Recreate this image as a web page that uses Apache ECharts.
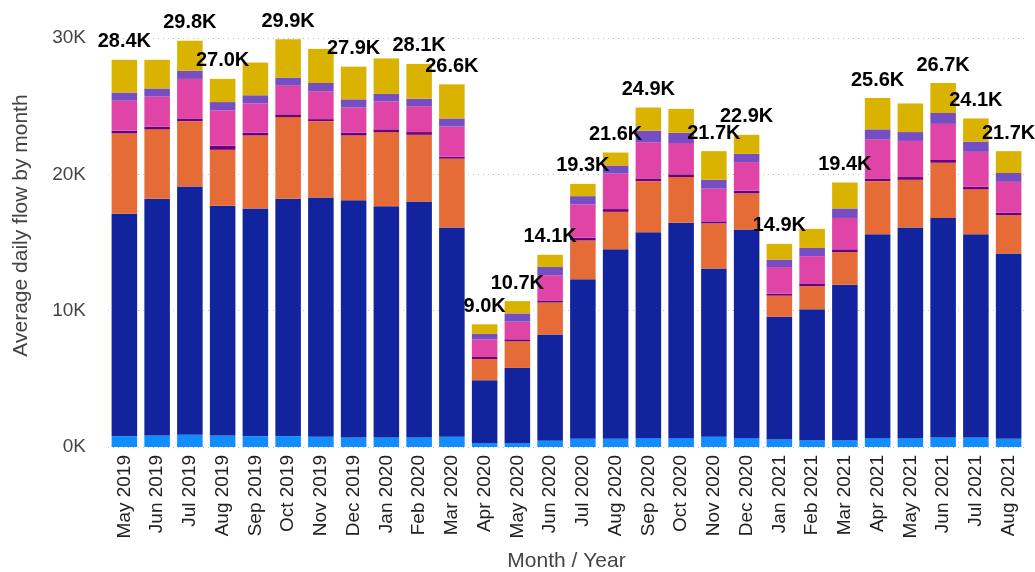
<!DOCTYPE html>
<html>
<head>
<meta charset="utf-8">
<title>Average daily flow by month</title>
<script src="https://cdn.jsdelivr.net/npm/echarts@6/dist/echarts.min.js"></script>
<style>
  html, body { margin: 0; padding: 0; background: #fff; }
  #chart { width: 1035px; height: 572px; }
</style>
</head>
<body>
<div id="chart"></div>
<script>
// values in thousands
const months = ['May 2019', 'Jun 2019', 'Jul 2019', 'Aug 2019', 'Sep 2019', 'Oct 2019', 'Nov 2019', 'Dec 2019',
  'Jan 2020', 'Feb 2020', 'Mar 2020', 'Apr 2020', 'May 2020', 'Jun 2020', 'Jul 2020', 'Aug 2020',
  'Sep 2020', 'Oct 2020', 'Nov 2020', 'Dec 2020', 'Jan 2021', 'Feb 2021', 'Mar 2021', 'Apr 2021',
  'May 2021', 'Jun 2021', 'Jul 2021', 'Aug 2021']

const seg1 = [0.8, 0.85, 0.9, 0.85, 0.8, 0.8, 0.75, 0.7, 0.7, 0.7, 0.75, 0.3, 0.3, 0.45, 0.6, 0.6, 0.65, 0.65, 0.75, 0.65, 0.55, 0.5, 0.5, 0.65, 0.65, 0.7, 0.7, 0.6]
const seg2 = [16.3, 17.35, 18.2, 16.85, 16.7, 17.4, 17.55, 17.4, 16.95, 17.3, 15.35, 4.6, 5.5, 7.8, 11.7, 13.9, 15.1, 15.8, 12.35, 15.3, 9.0, 9.6, 11.4, 14.95, 15.45, 16.1, 14.9, 13.6]
const seg3 = [5.9, 5.1, 4.8, 4.1, 5.35, 6.0, 5.6, 4.75, 5.45, 4.9, 5.05, 1.55, 1.95, 2.35, 2.85, 2.75, 3.75, 3.35, 3.3, 2.65, 1.55, 1.7, 2.4, 3.9, 3.5, 4.05, 3.3, 2.8]
const seg4 = [0.2, 0.2, 0.2, 0.3, 0.2, 0.2, 0.15, 0.2, 0.2, 0.2, 0.15, 0.15, 0.15, 0.15, 0.2, 0.2, 0.2, 0.2, 0.15, 0.2, 0.15, 0.2, 0.2, 0.2, 0.2, 0.2, 0.2, 0.2]
const seg5 = [2.2, 2.2, 2.9, 2.6, 2.15, 2.1, 2.05, 1.85, 2.05, 1.9, 2.2, 1.3, 1.3, 1.85, 2.45, 2.6, 2.65, 2.3, 2.4, 2.1, 1.95, 2.0, 2.3, 2.85, 2.65, 2.65, 2.55, 2.25]
const seg6 = [0.6, 0.6, 0.6, 0.6, 0.6, 0.6, 0.6, 0.6, 0.55, 0.55, 0.6, 0.4, 0.6, 0.6, 0.6, 0.6, 0.85, 0.75, 0.65, 0.6, 0.55, 0.6, 0.7, 0.75, 0.65, 0.8, 0.75, 0.65]
const seg7 = [2.4, 2.1, 2.2, 1.7, 2.4, 2.8, 2.5, 2.4, 2.6, 2.55, 2.5, 0.7, 0.9, 0.9, 0.9, 0.95, 1.7, 1.75, 2.1, 1.4, 1.15, 1.4, 1.9, 2.3, 2.1, 2.2, 1.7, 1.6]

// total labels shown on the picture (null = label hidden there)
const totalLabels = [28.4, null, 29.8, 27.0, null, 29.9, null, 27.9, null, 28.1, 26.6, 9.0, 10.7, 14.1, 19.3, 21.6,
  24.9, null, 21.7, 22.9, 14.9, null, 19.4, 25.6, null, 26.7, 24.1, 21.7]

const yTicks = [0, 10, 20, 30]

const segments = [seg1, seg2, seg3, seg4, seg5, seg6, seg7]
const colors = ['#118DFF', '#12239E', '#E66C37', '#6B007B', '#E044A7', '#744EC2', '#D9B300']

const chart = echarts.init(document.getElementById('chart'))

const series = segments.map((vals, i) => ({
  name: 'Group ' + (i + 1),
  type: 'bar',
  stack: 'flow',
  barWidth: '78%',
  itemStyle: { color: colors[i] },
  data: vals,
  label: i === segments.length - 1 ? {
    show: true,
    position: 'top',
    distance: 8,
    color: '#000',
    fontFamily: 'Liberation Sans, Arial, sans-serif',
    fontWeight: 'bold',
    fontSize: 20,
    formatter: (p) => totalLabels[p.dataIndex] == null ? '' : totalLabels[p.dataIndex].toFixed(1) + 'K'
  } : { show: false }
}))

chart.setOption({
  animation: false,
  textStyle: { fontFamily: 'Liberation Sans, Arial, sans-serif' },
  grid: { left: 108, right: 10, top: 38, bottom: 125, outerBoundsMode: 'none', containLabel: false },
  xAxis: {
    type: 'category',
    data: months,
    name: 'Month / Year',
    nameLocation: 'middle',
    nameGap: 104,
    nameTextStyle: { fontSize: 21, color: '#444' },
    axisLine: { show: false },
    axisTick: { show: false },
    axisLabel: { rotate: 90, fontSize: 19, color: '#222', margin: 8, interval: 0 }
  },
  yAxis: {
    type: 'value',
    min: yTicks[0],
    max: yTicks[yTicks.length - 1],
    interval: 10,
    name: 'Average daily flow by month',
    nameLocation: 'middle',
    nameGap: 76,
    nameTextStyle: { fontSize: 21, color: '#444', padding: [0, 0, 0, 34] },
    axisLabel: { fontSize: 19, color: '#444', margin: 22, formatter: (v) => v + 'K' },
    splitLine: { lineStyle: { type: [1, 4], color: '#BDBDBD', width: 1 } }
  },
  series: series
})
</script>
</body>
</html>
